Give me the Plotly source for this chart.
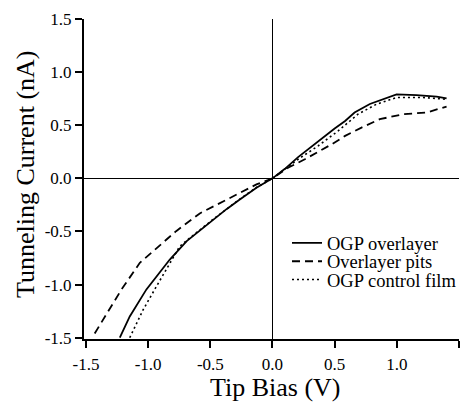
import plotly.graph_objects as go

# --- data ---
solid_x = [-1.228, -1.148, -1.014, -0.90, -0.826, -0.69, -0.585, -0.478, -0.37, -0.263, -0.129, 0.0,
           0.10, 0.206, 0.367, 0.50, 0.584, 0.66, 0.783, 0.89, 0.998, 1.158, 1.32, 1.40]
solid_y = [-1.50, -1.30, -1.045, -0.87, -0.764, -0.59, -0.49, -0.387, -0.29, -0.198, -0.088, 0.0,
           0.09, 0.20, 0.352, 0.47, 0.54, 0.62, 0.70, 0.745, 0.79, 0.783, 0.77, 0.752]

dashed_x = [-1.43, -1.295, -1.215, -1.067, -0.96, -0.775, -0.585, -0.45, -0.263, -0.129, 0.0,
            0.125, 0.26, 0.475, 0.584, 0.716, 0.863, 1.05, 1.24, 1.40]
dashed_y = [-1.46, -1.205, -1.047, -0.795, -0.686, -0.497, -0.33, -0.25, -0.135, -0.057, 0.0,
            0.10, 0.18, 0.32, 0.40, 0.478, 0.557, 0.604, 0.62, 0.676]

dotted_x = [-1.148, -1.04, -0.933, -0.826, -0.746, -0.69, -0.478, -0.263, -0.129, 0.0,
            0.206, 0.367, 0.528, 0.687, 0.836, 0.998, 1.21, 1.40]
dotted_y = [-1.50, -1.236, -1.016, -0.795, -0.64, -0.585, -0.385, -0.195, -0.085, 0.0,
            0.18, 0.305, 0.446, 0.604, 0.698, 0.761, 0.761, 0.745]

series_names = ["OGP overlayer", "Overlayer pits", "OGP control film"]

x_tickvals = [-1.5, -1.0, -0.5, 0.0, 0.5, 1.0, 1.5]
x_ticktext = ["-1.5", "-1.0", "-0.5", "0.0", "0.5", "1.0", "1.5"]
y_tickvals = [-1.5, -1.0, -0.5, 0.0, 0.5, 1.0, 1.5]
y_ticktext = ["-1.5", "-1.0", "-0.5", "0.0", "0.5", "1.0", "1.5"]

x_title = "Tip Bias (V)"
y_title = "Tunneling Current (nA)"

FONT = "Liberation Serif, Times New Roman, serif"

fig = go.Figure()
fig.add_trace(go.Scatter(x=solid_x, y=solid_y, mode="lines", name=series_names[0],
                         line=dict(color="black", width=1.8), legend="legend"))
fig.add_trace(go.Scatter(x=dashed_x, y=dashed_y, mode="lines", name=series_names[1],
                         line=dict(color="black", width=1.8, dash="8px,5px"), legend="legend2"))
fig.add_trace(go.Scatter(x=dotted_x, y=dotted_y, mode="lines", name=series_names[2],
                         line=dict(color="black", width=1.6, dash="2px,3px"), legend="legend3"))

leg_common = dict(font=dict(family=FONT, size=18.5, color="black"), bgcolor="rgba(0,0,0,0)",
                  xanchor="left", yanchor="middle", borderwidth=0,
                  xref="container", yref="container")

fig.update_layout(
    width=468, height=403,
    margin=dict(l=84, r=9, t=19, b=64, autoexpand=False),
    paper_bgcolor="white", plot_bgcolor="white",
    font=dict(family=FONT, color="black"),
    showlegend=True,
    legend=dict(x=287 / 468, y=(403 - 243.3) / 403, **leg_common),
    legend2=dict(x=287 / 468, y=(403 - 261.7) / 403, **leg_common),
    legend3=dict(x=287 / 468, y=(403 - 280) / 403, **leg_common),
    xaxis=dict(range=[-1.516, 1.5], showgrid=False, zeroline=True, zerolinecolor="black",
               zerolinewidth=1.2, showline=True, linecolor="black", linewidth=2,
               ticks="outside", ticklen=7, tickwidth=1.5, tickcolor="black",
               tickvals=x_tickvals, ticktext=x_ticktext, ticklabelstandoff=2,
               tickfont=dict(family=FONT, size=17, color="black")),
    yaxis=dict(range=[-1.512, 1.5], showgrid=False, zeroline=True, zerolinecolor="black",
               zerolinewidth=1.2, showline=True, linecolor="black", linewidth=2,
               ticks="outside", ticklen=7, tickwidth=1.5, tickcolor="black",
               tickvals=y_tickvals, ticktext=y_ticktext,
               tickfont=dict(family=FONT, size=17, color="black")),
    annotations=[
        dict(text=x_title, xref="paper", yref="paper", x=(275 - 84) / 375, y=(339 - 387) / 320,
             xanchor="center", yanchor="middle", showarrow=False,
             font=dict(family=FONT, size=26, color="black")),
        dict(text=y_title, xref="paper", yref="paper", x=(25 - 84) / 375, y=(339 - 175) / 320,
             xanchor="center", yanchor="middle", showarrow=False, textangle=-90,
             font=dict(family=FONT, size=26, color="black")),
    ],
)

fig.write_html("out.html")
